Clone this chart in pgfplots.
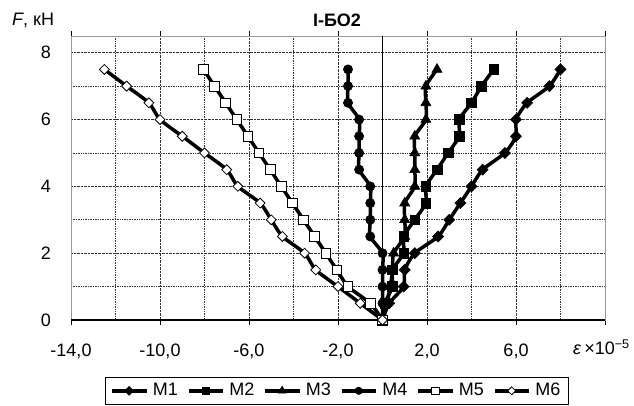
\documentclass[border=0pt]{standalone}
\usepackage{fontspec}
\setmainfont{Liberation Sans}
\usepackage{pgfplots}
\pgfplotsset{compat=1.18}
\begin{document}
\fontsize{18bp}{21bp}\selectfont
\begin{tikzpicture}
\useasboundingbox (-71bp,-86bp) rectangle (563bp,320bp);
\begin{axis}[
  at={(0,0)}, anchor=south west,
  scale only axis, width=534bp, height=284bp,
  xmin=-14, xmax=10, ymin=0, ymax=8.5,
  xtick={-14,-10,...,10},
  xticklabels={{-14,0},{-10,0},{-6,0},{-2,0},{2,0},{6,0},{}},
  minor xtick={-12,-8,...,8},
  ytick={0,2,4,6,8}, yticklabels={0,2,4,6,8},
  minor ytick={1,3,5,7},
  grid=both,
  grid style={black!80, densely dotted, line width=0.7bp},
  minor grid style={black!80, densely dotted, line width=0.7bp},
  axis line style={black!40, line width=0.9bp},
  tick align=outside,
  major tick length=5bp, minor tick length=0bp,
  xtick style={black, line width=0.9bp},
  ytick style={draw=none},
  x tick label style={yshift=-13bp},
  y tick label style={xshift=-9bp},
  extra x ticks={0}, extra x tick labels={},
  extra x tick style={grid=major, major grid style={black, solid, line width=1bp}, major tick length=0bp},
  legend style={at={(0.498,-0.2)}, anchor=north, legend columns=6, draw=black, line width=0.8bp,
    inner xsep=5bp, inner ysep=2bp,
    nodes={inner xsep=3bp, inner ysep=4bp},
    /tikz/every odd column/.append style={column sep=2bp},
    /tikz/every even column/.append style={column sep=6bp}},
  legend image code/.code={\draw[mark repeat=2,mark phase=2, every mark/.append style={scale=0.8}] plot coordinates {(0bp,0bp) (17bp,0bp) (34bp,0bp)};},
  clip=false,
]
\draw[black, line width=1.2bp] (rel axis cs:0,0) -- (rel axis cs:1,0);

\addplot[black, solid, line width=3.5bp, smooth, tension=0.4, mark=square*, mark size=3.9bp, mark options={solid, fill=black, line width=0.6bp, rotate=45}] coordinates {
(0,0) (0.3,0.5) (0.95,1) (1.0,1.5) (1.45,2) (2.5,2.5) (3.0,3) (3.5,3.5) (4.0,4) (4.5,4.5) (5.5,5) (6.0,5.5) (6.0,6) (6.5,6.5) (7.5,7) (8.0,7.5)};
\addlegendentry{M1}
\addplot[black, solid, line width=3.5bp, smooth, tension=0.4, mark=square*, mark size=4.8bp, mark options={solid, fill=black, line width=0.6bp}] coordinates {
(0,0) (0.1,0.5) (0.45,1) (0.45,1.5) (0.95,2) (0.95,2.5) (1.45,3) (1.95,3.5) (1.95,4) (2.45,4.5) (2.95,5) (3.45,5.5) (3.45,6) (4.0,6.5) (4.45,7) (5.0,7.5)};
\addlegendentry{M2}
\addplot[black, solid, line width=3.5bp, smooth, tension=0.4, mark=triangle*, mark size=5.8bp, mark options={solid, fill=black, line width=0.6bp}] coordinates {
(0,0) (0.2,0.5) (0.35,1) (0.45,1.5) (0.5,2) (1.0,2.5) (1.0,3) (1.0,3.5) (1.45,4) (1.45,4.5) (1.45,5) (1.45,5.5) (1.95,6) (1.95,6.5) (1.95,7) (2.45,7.5)};
\addlegendentry{M3}
\addplot[black, solid, line width=3.5bp, smooth, tension=0.4, mark=*, mark size=4.6bp, mark options={solid, fill=black, line width=0.6bp}] coordinates {
(0,0) (0,0.5) (0,1) (0,1.5) (0,2) (-0.55,2.5) (-0.55,3) (-0.55,3.5) (-0.55,4) (-1.05,4.5) (-1.05,5) (-1.05,5.5) (-1.05,6) (-1.55,6.5) (-1.55,7) (-1.55,7.5)};
\addlegendentry{M4}
\addplot[black, solid, line width=3.5bp, smooth, tension=0.4, mark=square*, mark size=4.8bp, mark options={solid, fill=white, draw=black, line width=0.8bp}] coordinates {
(0,0) (-0.55,0.5) (-1.55,1) (-2.05,1.5) (-2.55,2) (-3.05,2.5) (-3.55,3) (-4.05,3.5) (-4.55,4) (-5.05,4.5) (-5.55,5) (-6.05,5.5) (-6.55,6) (-7.05,6.5) (-7.55,7) (-8.05,7.5)};
\addlegendentry{M5}
\addplot[black, solid, line width=3.5bp, smooth, tension=0.4, mark=square*, mark size=3.5bp, mark options={solid, fill=white, draw=black, line width=0.8bp, rotate=45}] coordinates {
(0,0) (-1,0.5) (-2,1) (-3,1.5) (-3.5,2) (-4.5,2.5) (-5,3) (-5.5,3.5) (-6.5,4) (-7,4.5) (-8,5) (-9,5.5) (-10,6) (-10.5,6.5) (-11.5,7) (-12.5,7.5)};
\addlegendentry{M6}

\node[anchor=west, inner sep=0pt] at ([xshift=-59bp, yshift=16bp]rel axis cs:0,1) {\textit{F}, кН};
\node[inner sep=0pt, font=\bfseries] at ([xshift=-1bp, yshift=16bp]rel axis cs:0.5,1) {I-БО2};
\node[anchor=west, inner sep=0pt] at ([xshift=-32bp, yshift=-27bp]rel axis cs:1,0) {\textit{ε}\,×10\textsuperscript{−5}};
\end{axis}
\end{tikzpicture}
\end{document}
